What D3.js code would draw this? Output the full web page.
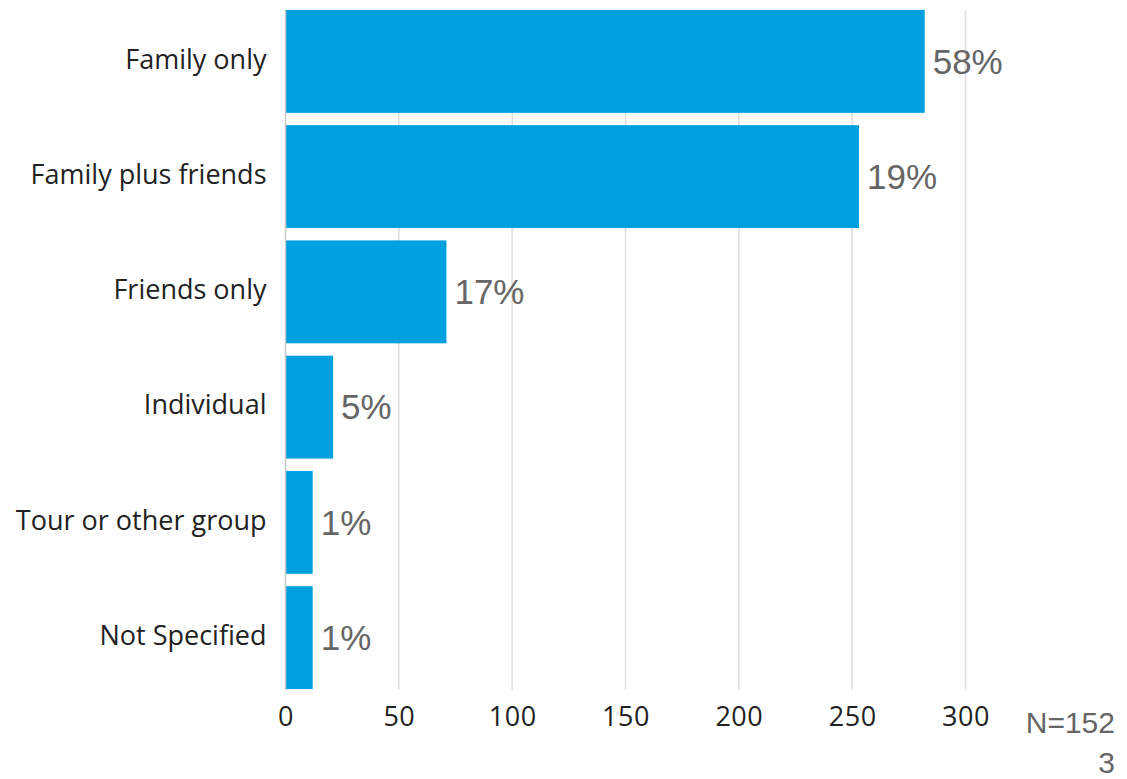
<!DOCTYPE html>
<html>
<head>
<meta charset="utf-8">
<script src="https://cdn.jsdelivr.net/npm/d3@7"></script>
<style>
  html, body { margin: 0; padding: 0; background: #fff; }
  svg { display: block; }
</style>
</head>
<body>
<svg id="chart" width="1127" height="779"></svg>
<script>
// Travel party composition
const categories = ["Family only", "Family plus friends", "Friends only", "Individual", "Tour or other group", "Not Specified"];
const counts = [282, 253, 71, 21, 12, 12];
const shareLabels = ["58%", "19%", "17%", "5%", "1%", "1%"];
const xTicks = [0, 50, 100, 150, 200, 250, 300];
const sampleNote = ["N=152", "3"];

const svg = d3.select("#chart");
const plotLeft = 285.5, plotRight = 965.5, plotTop = 3.8, plotBottom = 695.2;

const x = d3.scaleLinear().domain([0, 300]).range([plotLeft, plotRight]);
const y = d3.scaleBand().domain(categories).range([plotTop, plotBottom]).paddingInner(0.107).paddingOuter(0.053);

const gridTop = 10, gridBottom = 690;

// vertical gridlines
svg.append("g").selectAll("line").data(xTicks.slice(1)).join("line")
  .attr("x1", d => x(d)).attr("x2", d => x(d))
  .attr("y1", gridTop).attr("y2", gridBottom)
  .attr("stroke", "#dedede").attr("stroke-width", 1.5);

// bars
svg.append("g").selectAll("rect").data(categories).join("rect")
  .attr("x", x(0))
  .attr("y", d => y(d))
  .attr("width", (d, i) => x(counts[i]) - x(0))
  .attr("height", y.bandwidth())
  .attr("fill", "#00a0df");

// baseline at zero
svg.append("line")
  .attr("x1", x(0)).attr("x2", x(0))
  .attr("y1", gridTop).attr("y2", gridBottom)
  .attr("stroke", "#c8c8c8").attr("stroke-width", 1.5);

// category labels
svg.append("g").selectAll("text").data(categories).join("text")
  .attr("x", x(0) - 19)
  .attr("y", d => y(d) + y.bandwidth() / 2)
  .attr("dy", "0.27em")
  .attr("text-anchor", "end")
  .attr("font-family", "'Open Sans', sans-serif")
  .attr("font-size", 27)
  .attr("fill", "#222")
  .text(d => d);

// percentage labels
svg.append("g").selectAll("text").data(categories).join("text")
  .attr("x", (d, i) => x(counts[i]) + 8)
  .attr("y", d => y(d) + y.bandwidth() / 2)
  .attr("dy", "0.35em")
  .attr("font-family", "'Liberation Sans', Arial, sans-serif")
  .attr("font-size", 35)
  .attr("fill", "#666")
  .text((d, i) => shareLabels[i]);

// x axis tick labels
const xAxis = d3.axisBottom(x).tickValues(xTicks).tickSize(0).tickPadding(0);
const gx = svg.append("g").attr("transform", `translate(0, 706.5)`).call(xAxis);
gx.select(".domain").remove();
gx.selectAll("text")
  .attr("font-family", "'Open Sans', sans-serif")
  .attr("font-size", 27)
  .attr("letter-spacing", "0.5px")
  .attr("fill", "#222")
  .attr("dy", "0.71em");

// sample size note
svg.append("g").selectAll("text").data(sampleNote).join("text")
  .attr("x", 1115)
  .attr("y", (d, i) => 733 + i * 39.5)
  .attr("text-anchor", "end")
  .attr("font-family", "'Liberation Sans', Arial, sans-serif")
  .attr("font-size", 30)
  .attr("fill", "#666")
  .text(d => d);
</script>
</body>
</html>
